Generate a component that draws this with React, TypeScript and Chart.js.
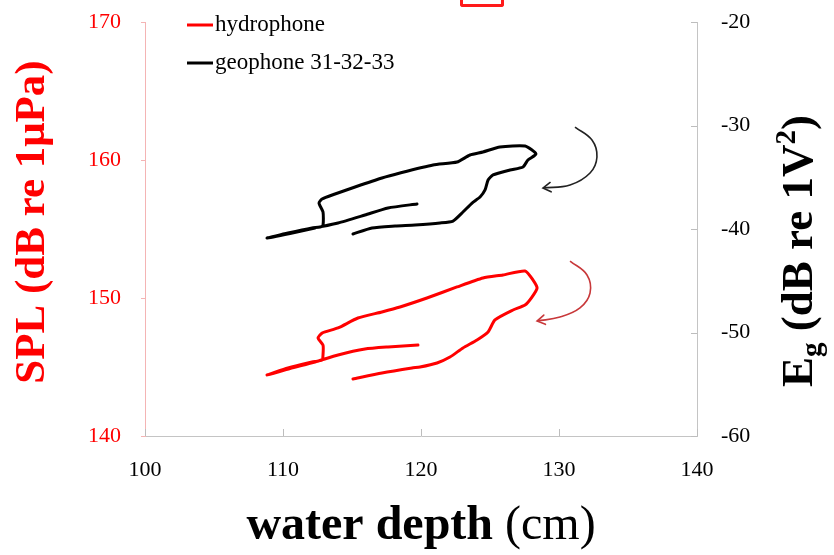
import React, { useEffect, useRef } from "react";
import { Chart, registerables } from "chart.js";
Chart.register(...registerables);

const SERIF = "'Liberation Serif', 'Times New Roman', serif";

const depthTicks = [100, 110, 120, 130, 140];
const splTicks = [140, 150, 160, 170];
const egTicks = [-60, -50, -40, -30, -20];

const seriesLabels = ["hydrophone", "geophone 31-32-33"];
const xTitleBold = "water depth";
const xTitleUnit = " (cm)";
const leftTitle = "SPL (dB re 1\u03bcPa)";

// hydrophone loop (water depth cm, SPL dB re 1uPa)
const hydroDepth = [115.07, 117.17, 119.35, 119.93, 121.16, 122.1, 123.04, 124.06, 124.86, 125.36, 126.67, 127.54, 128.04, 128.41, 128.12, 127.54, 125.94, 124.49, 122.61, 120.43, 118.48, 117.17, 115.43, 113.99, 112.83, 112.54, 112.9, 112.9, 112.83, 112.1, 110.36, 108.84, 110.51, 112.32, 113.99, 115.94, 117.61, 119.78];
const hydroSPL = [144.13, 144.57, 144.93, 145.0, 145.29, 145.72, 146.38, 146.96, 147.54, 148.41, 149.13, 149.49, 150.07, 150.72, 151.3, 151.96, 151.67, 151.45, 150.8, 150.0, 149.35, 148.99, 148.55, 147.83, 147.46, 147.1, 146.59, 145.87, 145.51, 145.36, 144.93, 144.42, 144.89, 145.36, 145.87, 146.3, 146.45, 146.59];

// geophone loop (water depth cm, Eg dB re 1V^2)
const geoDepth = [115.07, 116.45, 118.12, 119.57, 121.38, 122.32, 123.04, 123.7, 124.28, 124.64, 124.86, 125.22, 126.45, 127.39, 127.75, 128.33, 127.54, 125.72, 124.49, 123.55, 122.61, 120.87, 118.48, 117.17, 115.22, 113.77, 112.83, 112.61, 112.9, 112.9, 112.68, 112.1, 110.36, 108.84, 110.51, 112.32, 113.99, 115.94, 117.61, 119.71];
const geoEg = [-40.48, -39.9, -39.71, -39.61, -39.42, -39.23, -38.36, -37.49, -36.91, -36.23, -35.27, -34.78, -34.3, -34.01, -33.33, -32.75, -31.98, -32.08, -32.56, -32.85, -33.53, -33.82, -34.59, -35.07, -35.94, -36.62, -37.1, -37.49, -38.36, -39.61, -39.81, -39.9, -40.39, -40.87, -40.43, -39.9, -39.42, -38.65, -37.97, -37.58];

// curved arrows (in depth / SPL units)
const arrowGeoDepth = [131.16, 132.39, 132.75, 132.25, 130.8, 128.84];
const arrowGeoSPL = [162.39, 161.45, 160.22, 159.06, 158.19, 157.97];
const arrowHydroDepth = [130.8, 132.03, 132.25, 131.52, 130.07, 128.41];
const arrowHydroSPL = [152.68, 151.67, 150.36, 149.28, 148.62, 148.33];

const RED = "#ff0000";

const zip = (xs: number[], ys: number[]) => xs.map((x, i) => ({ x, y: ys[i] }));

const decorPlugin = {
  id: "decor",
  afterDraw(chart: any) {
    const ctx = chart.ctx;
    const xs = chart.scales.x;
    const yl = chart.scales.y;
    const yr = chart.scales.y2;
    const area = chart.chartArea;
    ctx.save();
    // tick marks
    ctx.lineWidth = 1;
    ctx.strokeStyle = "#bdbdbd";
    depthTicks.forEach((v) => {
      const px = Math.round(xs.getPixelForValue(v)) + 0.5;
      ctx.beginPath();
      ctx.moveTo(px, area.bottom);
      ctx.lineTo(px, area.bottom - 7);
      ctx.stroke();
    });
    egTicks.forEach((v) => {
      const py = Math.round(yr.getPixelForValue(v)) + 0.5;
      ctx.beginPath();
      ctx.moveTo(area.right, py);
      ctx.lineTo(area.right - 6, py);
      ctx.stroke();
    });
    ctx.strokeStyle = "#f4b4b4";
    splTicks.forEach((v) => {
      const py = Math.round(yl.getPixelForValue(v)) + 0.5;
      ctx.beginPath();
      ctx.moveTo(area.left, py);
      ctx.lineTo(area.left - 4, py);
      ctx.stroke();
    });

    // arrow heads
    chart.data.datasets.forEach((ds: any, i: number) => {
      if (!ds.isArrow) return;
      const pts = chart.getDatasetMeta(i).data;
      const a = pts[pts.length - 1];
      const b = pts[pts.length - 2];
      const ang = Math.atan2(a.y - b.y, a.x - b.x);
      const len = 9;
      ctx.strokeStyle = ds.borderColor;
      ctx.lineWidth = 1.6;
      ctx.lineCap = "round";
      ctx.beginPath();
      ctx.moveTo(a.x - len * Math.cos(ang - 0.55), a.y - len * Math.sin(ang - 0.55));
      ctx.lineTo(a.x, a.y);
      ctx.lineTo(a.x - len * Math.cos(ang + 0.55), a.y - len * Math.sin(ang + 0.55));
      ctx.stroke();
    });

    // legend
    ctx.font = `23px ${SERIF}`;
    ctx.textBaseline = "middle";
    ctx.textAlign = "left";
    const legendRows = [25, 63];
    chart.data.datasets.filter((d: any) => !d.isArrow).forEach((ds: any, i: number) => {
      const yy = legendRows[i];
      ctx.strokeStyle = ds.borderColor;
      ctx.lineWidth = 3;
      ctx.lineCap = "butt";
      ctx.beginPath();
      ctx.moveTo(187, yy);
      ctx.lineTo(213, yy);
      ctx.stroke();
      ctx.fillStyle = "#000";
      ctx.fillText(ds.label, 215, yy);
    });

    // x title
    ctx.fillStyle = "#000";
    ctx.textBaseline = "alphabetic";
    const fb = `bold 48px ${SERIF}`;
    const fr = `48px ${SERIF}`;
    ctx.font = fb;
    const wb = ctx.measureText(xTitleBold).width;
    ctx.font = fr;
    const wr = ctx.measureText(xTitleUnit).width;
    const cx = (area.left + area.right) / 2;
    const sx = cx - (wb + wr) / 2;
    ctx.font = fb;
    ctx.fillText(xTitleBold, sx, 539);
    ctx.font = fr;
    ctx.fillText(xTitleUnit, sx + wb, 539);

    // left title
    ctx.save();
    ctx.translate(33, 222);
    ctx.rotate(-Math.PI / 2);
    ctx.font = `bold 43px ${SERIF}`;
    ctx.fillStyle = RED;
    ctx.textAlign = "center";
    ctx.textBaseline = "middle";
    ctx.fillText(leftTitle, 0, 0);
    ctx.restore();

    // right title  E_g (dB re 1V^2)
    ctx.save();
    ctx.translate(797, 251);
    ctx.rotate(-Math.PI / 2);
    ctx.fillStyle = "#000";
    ctx.textBaseline = "alphabetic";
    ctx.textAlign = "left";
    const big = `bold 45px ${SERIF}`;
    const small = `bold 29px ${SERIF}`;
    const segs = [
      { t: "E", f: big, dy: 0 },
      { t: "g", f: small, dy: 9 },
      { t: " (dB re 1V", f: big, dy: 0 },
      { t: "2", f: small, dy: -17 },
      { t: ")", f: big, dy: 0 },
    ];
    let total = 0;
    segs.forEach((s) => {
      ctx.font = s.f;
      total += ctx.measureText(s.t).width;
    });
    let px = -total / 2;
    segs.forEach((s) => {
      ctx.font = s.f;
      ctx.fillText(s.t, px, 15 + s.dy);
      px += ctx.measureText(s.t).width;
    });
    ctx.restore();

    ctx.restore();
  },
};

const noPadV = (w: number) => (s: any) => {
  s.width = w;
  s.paddingTop = 0;
  s.paddingBottom = 0;
};

export default function App() {
  const ref = useRef<HTMLCanvasElement | null>(null);
  useEffect(() => {
    document.body.style.margin = "0";
    const canvas = ref.current;
    if (!canvas) return;
    const chart = new Chart(canvas, {
      type: "line",
      data: {
        datasets: [
          {
            label: seriesLabels[0],
            data: zip(hydroDepth, hydroSPL),
            borderColor: RED,
            borderWidth: 3,
            pointRadius: 0,
            tension: 0.2,
            yAxisID: "y",
            borderJoinStyle: "round",
            borderCapStyle: "round",
          } as any,
          {
            label: seriesLabels[1],
            data: zip(geoDepth, geoEg),
            borderColor: "#000000",
            borderWidth: 3,
            pointRadius: 0,
            tension: 0.2,
            yAxisID: "y2",
            borderJoinStyle: "round",
            borderCapStyle: "round",
          } as any,
          {
            label: "",
            isArrow: true,
            data: zip(arrowGeoDepth, arrowGeoSPL),
            borderColor: "#222222",
            borderWidth: 1.6,
            pointRadius: 0,
            tension: 0.4,
            yAxisID: "y",
          } as any,
          {
            label: "",
            isArrow: true,
            data: zip(arrowHydroDepth, arrowHydroSPL),
            borderColor: "#c8383a",
            borderWidth: 1.6,
            pointRadius: 0,
            tension: 0.4,
            yAxisID: "y",
          } as any,
        ],
      },
      options: {
        responsive: false,
        animation: false,
        events: [],
        layout: { padding: { top: 22, left: 0, right: 0, bottom: 0 } },
        plugins: { legend: { display: false }, tooltip: { enabled: false } },
        scales: {
          x: {
            type: "linear",
            min: 100,
            max: 140,
            afterBuildTicks: (s: any) => { s.ticks = depthTicks.map((v) => ({ value: v })); },
            afterFit: (s: any) => { s.height = 119; s.paddingLeft = 0; s.paddingRight = 0; },
            grid: { display: false },
            border: { display: true, color: "#c4c4c4", width: 1 },
            ticks: { color: "#000", font: { family: SERIF, size: 22 }, padding: 13, maxRotation: 0 },
          },
          y: {
            type: "linear",
            position: "left",
            min: 140,
            max: 170,
            afterBuildTicks: (s: any) => { s.ticks = splTicks.map((v) => ({ value: v })); },
            afterFit: noPadV(145),
            grid: { display: false },
            border: { display: true, color: "#f4b4b4", width: 1 },
            ticks: { color: RED, font: { family: SERIF, size: 22 }, padding: 16 },
          },
          y2: {
            type: "linear",
            position: "right",
            min: -60,
            max: -20,
            afterBuildTicks: (s: any) => { s.ticks = egTicks.map((v) => ({ value: v })); },
            afterFit: noPadV(137),
            grid: { display: false },
            border: { display: true, color: "#c4c4c4", width: 1 },
            ticks: { color: "#000", font: { family: SERIF, size: 22 }, padding: 16 },
          },
        },
      } as any,
      plugins: [decorPlugin],
    });
    return () => chart.destroy();
  }, []);

  return (
    <div style={{ position: "relative", width: 834, height: 555, background: "#fff" }}>
      <canvas ref={ref} width={834} height={555} style={{ display: "block" }} />
      <div
        style={{
          position: "absolute",
          left: 460,
          top: 0,
          width: 38,
          height: 4,
          border: "3px solid #ff1a1a",
          borderTop: "none",
          borderRadius: "0 0 3px 3px",
        }}
      />
    </div>
  );
}
